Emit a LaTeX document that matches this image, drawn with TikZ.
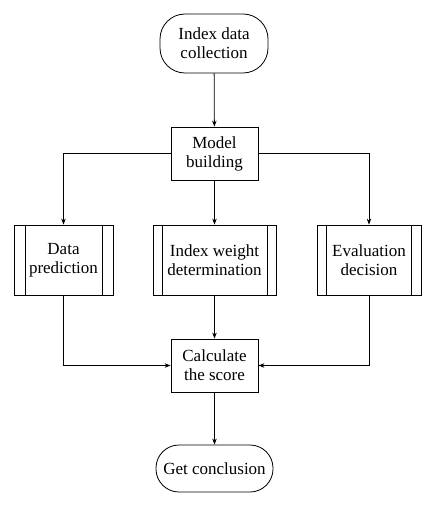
\documentclass[tikz,border=0pt]{standalone}
\usepackage{fontspec}
\setmainfont{Liberation Serif}
\newfontfamily\tnr{Liberation Serif}
\usetikzlibrary{arrows.meta,calc}
\begin{document}
\begin{tikzpicture}[x=1pt,y=-1pt,
  base/.style={draw,line width=0.8pt,align=center,inner sep=0pt,
    font=\tnr\fontsize{17}{19}\selectfont},
  term/.style={base,rounded corners=25pt},
  proc/.style={base},
  sub/.style={base},
  arr/.style={line width=0.8pt,-{Stealth[length=6pt,width=4.5pt]}},
  ln/.style={line width=0.8pt}]
\useasboundingbox[fill=white] (0,0) rectangle (438,505);
\node[term,minimum width=108pt,minimum height=59pt] (start) at (214,43.5) {Index data\\collection};
\node[proc,minimum width=87pt,minimum height=53pt] (model) at (214.5,153.5) {Model\\building};
\node[sub,minimum width=99pt,minimum height=70pt] (data) at (63.5,260) {Data\\prediction};
\node[sub,minimum width=123pt,minimum height=70pt] (index) at (214.5,260) {Index weight\\determination};
\node[sub,minimum width=104pt,minimum height=70pt] (eval) at (369,260) {Evaluation\\decision};
\node[proc,minimum width=87pt,minimum height=53pt] (calc) at (214.5,365.5) {Calculate\\the score};
\node[term,rounded corners=23pt,minimum width=117pt,minimum height=47pt] (end) at (214.5,468.5) {Get conclusion};
% inner lines of predefined-process boxes
\foreach \n/\d in {data/11.5,index/9.5,eval/10}{
  \draw[ln] ([xshift=\d pt]\n.north west) -- ([xshift=\d pt]\n.south west);
  \draw[ln] ([xshift=-\d pt]\n.north east) -- ([xshift=-\d pt]\n.south east);
}
\draw[arr] (start) -- (model);
\draw[arr] (model.west) -| (data.north);
\draw[arr] (model) -- (index);
\draw[arr] (model.east) -| (eval.north);
\draw[arr] (data.south) |- (calc.west);
\draw[arr] (index) -- (calc);
\draw[arr] (eval.south) |- (calc.east);
\draw[arr] (calc) -- (end);
\end{tikzpicture}
\end{document}
